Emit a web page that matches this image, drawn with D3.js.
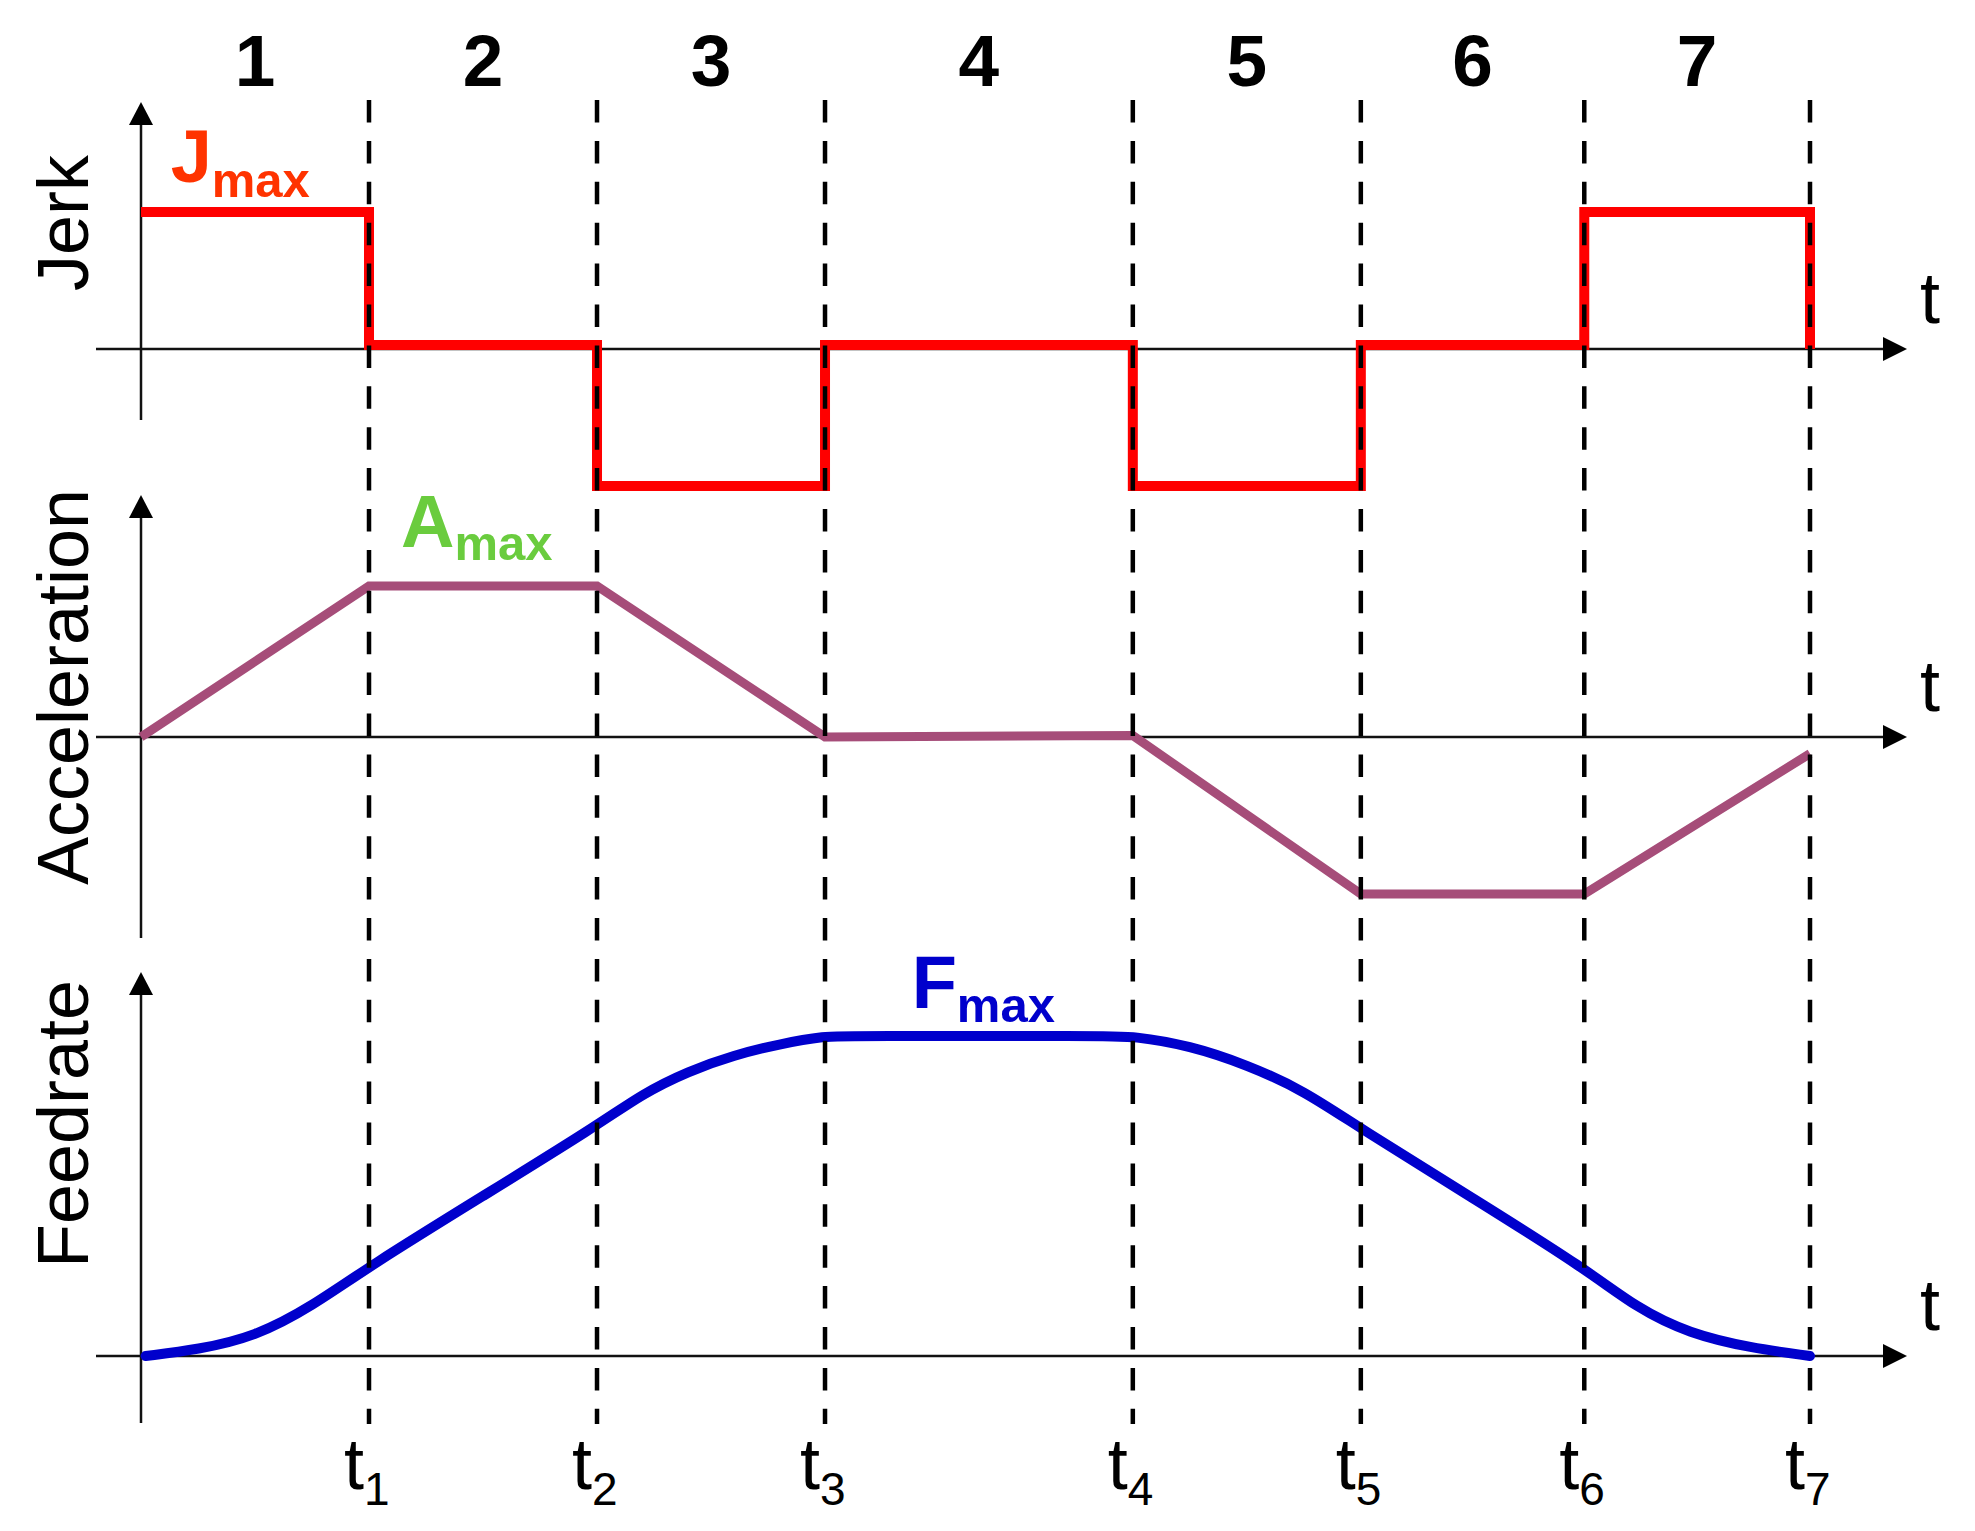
<!DOCTYPE html>
<html>
<head>
<meta charset="utf-8">
<title>Jerk / Acceleration / Feedrate profile</title>
<style>
  body { margin: 0; background: #fff; }
  svg { display: block; font-family: "Liberation Sans", Arial, sans-serif; }
</style>
</head>
<body>
<div id="chart"></div>
<script src="https://cdn.jsdelivr.net/npm/d3@7"></script>
<script>
// phase boundaries t0..t7 (time units)
var phaseTimes = [0, 1, 2, 3, 4.35, 5.35, 6.33, 7.32];
var phaseNames = ["1", "2", "3", "4", "5", "6", "7"];
var tickNames = ["t1", "t2", "t3", "t4", "t5", "t6", "t7"];

// jerk level at each boundary (step after), Jmax = 1
var jerkLevels = [1, 0.03, -1.0, 0.03, -1.0, 0.03, 1, 0];

// acceleration at each boundary, Amax = 1
var accLevels = [0, 1, 1, 0, 0.01, -1.04, -1.04, -0.11];

// feedrate samples, Fmax = 1
var feedTimes  = [0.02, 0.25, 0.5, 0.75, 1.0, 1.5, 2.0, 2.2, 2.4, 2.6, 2.8, 3.0, 3.12,
                  4.22, 4.35, 4.6, 4.85, 5.1, 5.35, 5.85, 6.34, 6.56, 6.79, 7.06, 7.32];
var feedValues = [0.0, 0.02, 0.06, 0.155, 0.28, 0.50, 0.72, 0.82, 0.89, 0.94, 0.975, 1.0, 1.0,
                  1.0, 1.0, 0.97, 0.91, 0.83, 0.71, 0.49, 0.27, 0.15, 0.07, 0.025, 0.0];

var width = 1975,
    height = 1531;

var svg = d3.select("#chart").append("svg")
    .attr("width", width)
    .attr("height", height);

svg.append("rect").attr("width", width).attr("height", height).attr("fill", "#fff");

var x = d3.scaleLinear()
    .domain([0, phaseTimes[phaseTimes.length - 1]])
    .range([141, 1810]);

// one y scale per panel, zero at the panel's t axis
var yJerk = d3.scaleLinear().domain([0, 1]).range([349, 212]);
var yAcc  = d3.scaleLinear().domain([0, 1]).range([737, 586]);
var yFeed = d3.scaleLinear().domain([0, 1]).range([1356, 1036]);

var panels = [
  { name: "Jerk",         y: yJerk, top: 102, bottom: 420, labelY: 223 },
  { name: "Acceleration", y: yAcc,  top: 495, bottom: 938, labelY: 687 },
  { name: "Feedrate",     y: yFeed, top: 972, bottom: 1423, labelY: 1124 }
];

var axisColor = "#111";

// axes with arrow heads
panels.forEach(function(p) {
  var y0 = p.y(0),
      ax = x(0);

  // vertical axis
  svg.append("line")
      .attr("x1", ax).attr("x2", ax)
      .attr("y1", p.top + 18).attr("y2", p.bottom)
      .attr("stroke", axisColor).attr("stroke-width", 2.5);
  svg.append("path")
      .attr("d", "M" + ax + "," + p.top + "L" + (ax - 12) + "," + (p.top + 23) + "L" + (ax + 12) + "," + (p.top + 23) + "Z")
      .attr("fill", "#000");

  // horizontal t axis
  svg.append("line")
      .attr("x1", 96).attr("x2", 1890)
      .attr("y1", y0).attr("y2", y0)
      .attr("stroke", axisColor).attr("stroke-width", 2.5);
  svg.append("path")
      .attr("d", "M1907," + y0 + "L1883," + (y0 - 12) + "L1883," + (y0 + 12) + "Z")
      .attr("fill", "#000");

  svg.append("text")
      .attr("x", 1920).attr("y", y0 - 26)
      .attr("font-size", 72)
      .text("t");

  // panel label, rotated
  svg.append("text")
      .attr("transform", "translate(88," + p.labelY + ") rotate(-90)")
      .attr("text-anchor", "middle")
      .attr("font-size", 72)
      .text(p.name);
});

// jerk: step line
var jerkLine = d3.line()
    .x(function(d, i) { return x(phaseTimes[i]); })
    .y(function(d) { return yJerk(d); })
    .curve(d3.curveStepAfter);

svg.append("path")
    .datum(jerkLevels)
    .attr("d", jerkLine)
    .attr("fill", "none")
    .attr("stroke", "#ff0000")
    .attr("stroke-width", 10)
    .attr("stroke-linejoin", "miter");

// acceleration: trapezoids
var accLine = d3.line()
    .x(function(d, i) { return x(phaseTimes[i]); })
    .y(function(d) { return yAcc(d); });

svg.append("path")
    .datum(accLevels)
    .attr("d", accLine)
    .attr("fill", "none")
    .attr("stroke", "#a64d79")
    .attr("stroke-width", 9)
    .attr("stroke-linejoin", "miter");

// feedrate: smooth S curve
var feedLine = d3.line()
    .x(function(d, i) { return x(feedTimes[i]); })
    .y(function(d) { return yFeed(d); })
    .curve(d3.curveBasis);

svg.append("path")
    .datum(feedValues)
    .attr("d", feedLine)
    .attr("fill", "none")
    .attr("stroke", "#0000cc")
    .attr("stroke-width", 10)
    .attr("stroke-linecap", "round");

// dashed phase boundaries
svg.selectAll(".boundary")
    .data(phaseTimes.slice(1))
  .enter().append("line")
    .attr("class", "boundary")
    .attr("x1", function(d) { return x(d); })
    .attr("x2", function(d) { return x(d); })
    .attr("y1", 100).attr("y2", 1424)
    .attr("stroke", "#000")
    .attr("stroke-width", 4.5)
    .attr("stroke-dasharray", "22.5,18.4");

// phase numbers on top
svg.selectAll(".phase")
    .data(phaseNames)
  .enter().append("text")
    .attr("class", "phase")
    .attr("x", function(d, i) { return (x(phaseTimes[i]) + x(phaseTimes[i + 1])) / 2; })
    .attr("y", 86)
    .attr("text-anchor", "middle")
    .attr("font-size", 73)
    .attr("font-weight", "bold")
    .text(function(d) { return d; });

// t1..t7 under the boundaries
var ticks = svg.selectAll(".tick")
    .data(tickNames)
  .enter().append("text")
    .attr("class", "tick")
    .attr("x", function(d, i) { return x(phaseTimes[i + 1]) - 25; })
    .attr("y", 1489)
    .attr("font-size", 72);
ticks.append("tspan").text("t");
ticks.append("tspan")
    .attr("font-size", 46)
    .attr("dy", 16)
    .text(function(d) { return d.slice(1); });

// max labels
function maxLabel(letter, color, px, py, dy) {
  var t = svg.append("text")
      .attr("x", px).attr("y", py)
      .attr("fill", color)
      .attr("font-weight", "bold")
      .attr("font-size", 74);
  t.append("tspan").text(letter);
  t.append("tspan").attr("font-size", 49).attr("dy", dy).text("max");
}

maxLabel("J", "#ff3300", x(0.13), yJerk(1) - 30, 15);
maxLabel("A", "#6acc3e", x(1.14), yAcc(1) - 39, 13);
maxLabel("F", "#0000cc", x(3.38), yFeed(1) - 28, 14);
</script>
</body>
</html>
